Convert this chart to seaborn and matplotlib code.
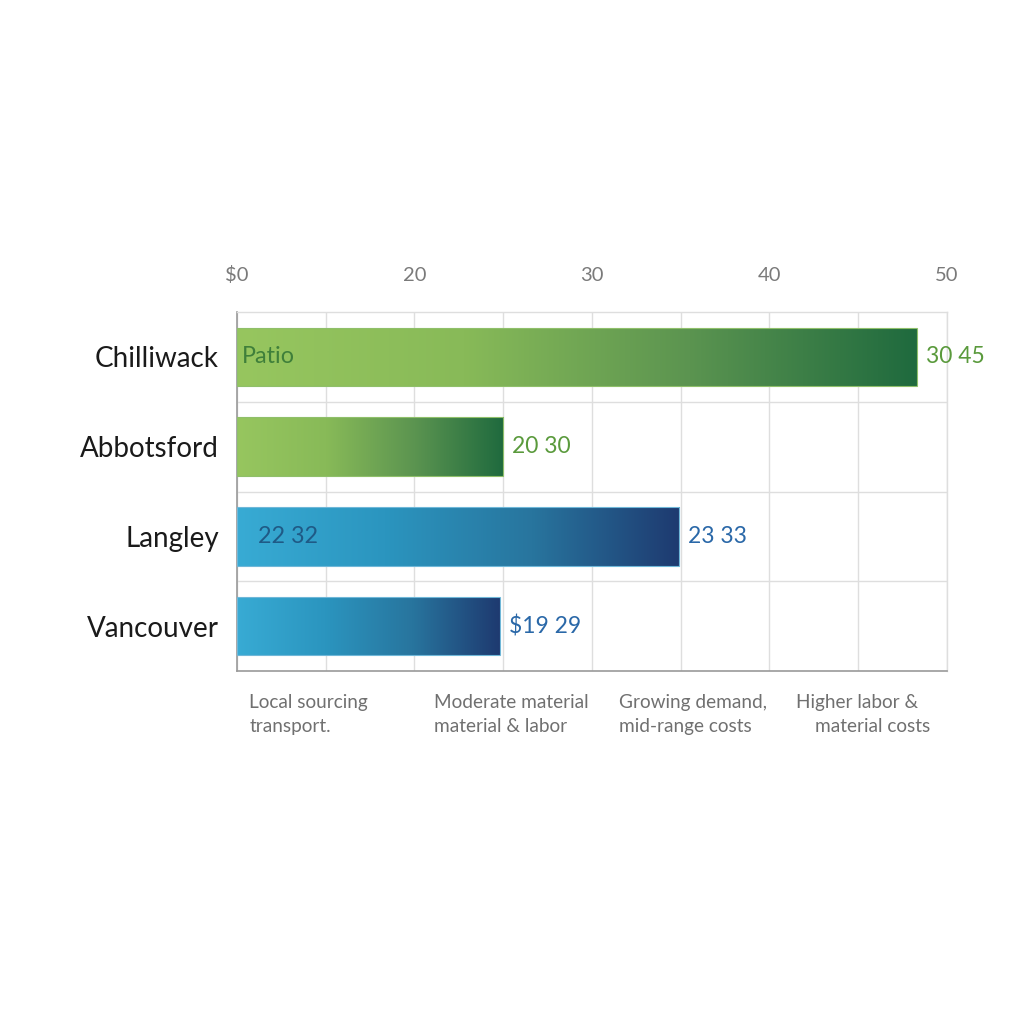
import numpy as np
import pandas as pd
import matplotlib
matplotlib.use("Agg")
import matplotlib.pyplot as plt
import seaborn as sns
from matplotlib.colors import LinearSegmentedColormap

cities = ["Chilliwack", "Abbotsford", "Langley", "Vancouver"]
values = [48.3, 25.0, 34.9, 24.8]
groups = ["green", "green", "blue", "blue"]
inner_labels = ["Patio", "", "22 32", ""]
end_labels = ["30 45", "20 30", "23 33", "$19 29"]
tick_values = [10, 20, 30, 40, 50]
tick_labels = ["$0", "20", "30", "40", "50"]
note_lines = [["Local sourcing", "transport."],
              ["Moderate material", "material & labor"],
              ["Growing demand,", "mid-range costs"],
              ["Higher labor &", "material costs"]]
note_x = [[10.7, 10.7], [21.1, 21.1], [31.5, 31.5], [41.5, 42.55]]

XMIN, XMAX = 10, 50

sns.set_theme(style="white")
plt.rcParams['font.family'] = ['Lato', 'DejaVu Sans']

df = pd.DataFrame({"city": cities, "value": values, "group": groups})

fig = plt.figure(figsize=(10.24, 10.24), dpi=100)
ax = fig.add_axes([0.2314, 0.3447, 0.6934, 0.3506])

sns.barplot(data=df, y="city", x="value", orient="h", ax=ax, width=0.65,
            color="#ffffff", edgecolor="none", zorder=2)

cmaps = {
    "green": LinearSegmentedColormap.from_list("g", ["#97c65f", "#88ba58", "#5b9450", "#1f6a3e"]),
    "blue": LinearSegmentedColormap.from_list("b", ["#38abd4", "#2b95bf", "#28759e", "#1e3a70"]),
}
edgecols = {"green": "#8fbf6a", "blue": "#6fb7d8"}
label_cols = {"green": "#5a9a3c", "blue": "#2a68a8"}
inner_cols = {"green": "#3f7f3a", "blue": "#1f5a86"}

grad = np.linspace(0, 1, 256).reshape(1, -1)
for patch, grp, v in zip(ax.patches, groups, values):
    patch.set_x(XMIN)
    patch.set_width(v - XMIN)
    x0, y0 = patch.get_x(), patch.get_y()
    w, h = patch.get_width(), patch.get_height()
    im = ax.imshow(grad, cmap=cmaps[grp], aspect="auto",
                   extent=[x0, x0 + w, y0 + h, y0], zorder=3, interpolation="bicubic")
    im.set_clip_path(patch)
    patch.set_edgecolor(edgecols[grp])
    patch.set_linewidth(0.8)
    patch.set_facecolor("none")
    patch.set_zorder(4)

for i, (v, grp) in enumerate(zip(values, groups)):
    ax.text(v + 0.5, i, end_labels[i], va="center", ha="left", fontsize=16.5,
            color=label_cols[grp], zorder=5)
    if inner_labels[i]:
        off = 10.3 if i == 0 else 11.2
        ax.text(off, i, inner_labels[i], va="center", ha="left", fontsize=16.8,
                color=inner_cols[grp], zorder=5)

ax.set_xlim(XMIN, XMAX)
ax.set_ylim(3.5, -0.5)
major = np.arange(XMIN, XMAX + 1, 5)
ax.set_xticks(major)
ax.set_xticklabels([tick_labels[tick_values.index(t)] if t in tick_values else ""
                    for t in major])
ax.xaxis.tick_top()
ax.tick_params(axis="x", length=0, pad=20.5, labelsize=14.5, labelcolor="#7a7a7a")
ax.tick_params(axis="y", length=0, pad=13, labelsize=20, labelcolor="#1a1a1a")
ax.set_yticks([0.5, 1.5, 2.5], minor=True)
ax.grid(True, which="major", axis="x", color="#dedede", linewidth=1.0, zorder=0)
ax.grid(True, which="minor", axis="y", color="#dedede", linewidth=1.0, zorder=0)
ax.tick_params(axis="y", which="minor", length=0)
ax.set_axisbelow(True)
ax.set_xlabel("")
ax.set_ylabel("")
for s in ["top", "right"]:
    ax.spines[s].set_color("#dedede")
    ax.spines[s].set_linewidth(1.0)
for s in ["left", "bottom"]:
    ax.spines[s].set_color("#9a9a9a")
    ax.spines[s].set_linewidth(1.2)

for xs, lines in zip(note_x, note_lines):
    for j, (nx, line) in enumerate(zip(xs, lines)):
        ax.text(nx, 3.855 + j * 0.265, line, ha="left", va="center", fontsize=13.7,
                color="#707070")

fig.savefig("out.png", dpi=100, facecolor="white")
